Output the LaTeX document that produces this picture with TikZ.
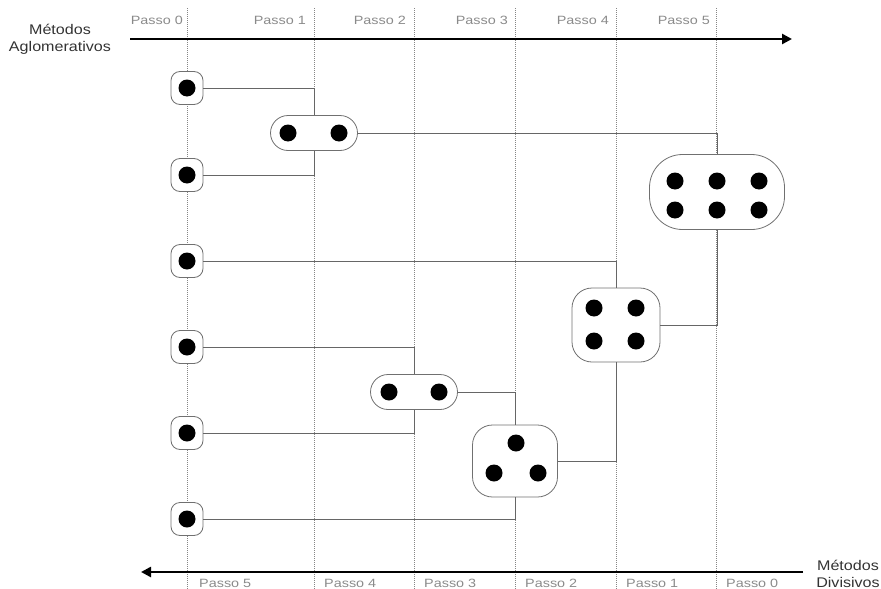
\documentclass[tikz,border=0pt]{standalone}
\usepackage{fontspec}
\setmainfont{Liberation Sans}
\newfontfamily\passofont[FakeStretch=1.2]{Liberation Sans}
\newfontfamily\metfont[FakeStretch=1.15]{Liberation Sans}
\usetikzlibrary{arrows.meta,shapes.misc}
\definecolor{lblgray}{HTML}{8A8A8A}
\definecolor{lingray}{HTML}{666666}
\definecolor{boxgray}{HTML}{707070}
\tikzset{
  guide/.style={draw=lingray!80, line width=0.7pt, dash pattern=on 0.8pt off 1.2pt},
  axisline/.style={draw=black, line width=2.6pt, -{Triangle[length=10pt,width=10pt]}},
  link/.style={draw=lingray, line width=0.8pt},
  single/.style={draw=boxgray, fill=white, line width=0.8pt, rectangle, rounded corners=9pt, minimum width=32pt, minimum height=33pt, inner sep=0pt},
  pair/.style={draw=boxgray, fill=white, line width=0.8pt, rounded rectangle, minimum width=87pt, minimum height=35pt, inner sep=0pt},
  cluster/.style={draw=boxgray, fill=white, line width=0.8pt, rectangle, inner sep=0pt},
  dot/.style={fill=black},
  passolbl/.style={text=lblgray, font=\passofont\fontsize{12}{14}\selectfont, inner sep=0pt},
  metlbl/.style={text=black!80, font=\metfont\fontsize{14}{17}\selectfont, inner sep=0pt, align=center}
}
\begin{document}
\begin{tikzpicture}[x=1pt,y=-1pt]
\useasboundingbox (0,0) rectangle (881,589);
% guide lines
\foreach \i/\x in {0/187,1/314,2/414,3/515,4/616,5/716}{
  \coordinate (gt\i) at (\x,8);
  \coordinate (gb\i) at (\x,589);
  \draw[guide] (gt\i) -- (gb\i);
}
% axes
\coordinate (ta) at (130,39);
\coordinate (tb) at (792,39);
\draw[axisline] (ta) -- (tb);
\coordinate (ba) at (803,572);
\coordinate (bb) at (141,572);
\draw[axisline] (ba) -- (bb);
% top labels
\node[passolbl, anchor=east] (tp0) at (183,20) {Passo 0};
\node[passolbl, anchor=east] (tp1) at (306,20) {Passo 1};
\node[passolbl, anchor=east] (tp2) at (406,20) {Passo 2};
\node[passolbl, anchor=east] (tp3) at (508,20) {Passo 3};
\node[passolbl, anchor=east] (tp4) at (609,20) {Passo 4};
\node[passolbl, anchor=east] (tp5) at (710,20) {Passo 5};
% bottom labels
\node[passolbl, anchor=west] (bp5) at (199,583) {Passo 5};
\node[passolbl, anchor=west] (bp4) at (324,583) {Passo 4};
\node[passolbl, anchor=west] (bp3) at (424,583) {Passo 3};
\node[passolbl, anchor=west] (bp2) at (525,583) {Passo 2};
\node[passolbl, anchor=west] (bp1) at (626,583) {Passo 1};
\node[passolbl, anchor=west] (bp0) at (726,583) {Passo 0};
% method labels
\node[metlbl] (aglo) at (60,39) {Métodos\\Aglomerativos};
\node[metlbl] (divi) at (848,574) {Métodos\\Divisivos};
% singletons
\node[single] (s1) at (187,88) {};
\node[single] (s2) at (187,175) {};
\node[single] (s3) at (187,261) {};
\node[single] (s4) at (187,347) {};
\node[single] (s5) at (187,433) {};
\node[single] (s6) at (187,519) {};
% groups
\node[pair] (p1) at (314,133) {};
\node[pair] (p2) at (414,392) {};
\node[cluster, rounded corners=20pt, minimum width=85pt, minimum height=72pt] (c3) at (515,461) {};
\node[cluster, rounded corners=20pt, minimum width=88pt, minimum height=74pt] (c4) at (616,325) {};
\node[cluster, rounded corners=33pt, minimum width=135pt, minimum height=75pt] (c6) at (717,192) {};
% connectors
\draw[link] (s1.east) -| (p1.north);
\draw[link] (s2.east) -| (p1.south);
\draw[link] (p1.east) -| (c6.north);
\draw[link] (s3.east) -| (c4.north);
\draw[link] (c4.east) -| (c6.south);
\draw[link] (s4.east) -| (p2.north);
\draw[link] (s5.east) -| (p2.south);
\draw[link] (p2.east) -| (c3.north);
\draw[link] (s6.east) -| (c3.south);
\draw[link] (c3.east) -| (c4.south);
% dots
\foreach \n in {s1,s2,s3,s4,s5,s6}{ \fill[dot] (\n.center) circle (8.5pt); }
\fill[dot] (288,133) circle (8.5pt);
\fill[dot] (339,133) circle (8.5pt);
\fill[dot] (389,392) circle (8.5pt);
\fill[dot] (439,392) circle (8.5pt);
\fill[dot] (516,443) circle (8.5pt);
\fill[dot] (494,473) circle (8.5pt);
\fill[dot] (538,473) circle (8.5pt);
\fill[dot] (594,308) circle (8.5pt);
\fill[dot] (636,308) circle (8.5pt);
\fill[dot] (594,341) circle (8.5pt);
\fill[dot] (636,341) circle (8.5pt);
\fill[dot] (675,181) circle (8.5pt);
\fill[dot] (717,181) circle (8.5pt);
\fill[dot] (759,181) circle (8.5pt);
\fill[dot] (675,210) circle (8.5pt);
\fill[dot] (717,210) circle (8.5pt);
\fill[dot] (759,210) circle (8.5pt);
\end{tikzpicture}
\end{document}
